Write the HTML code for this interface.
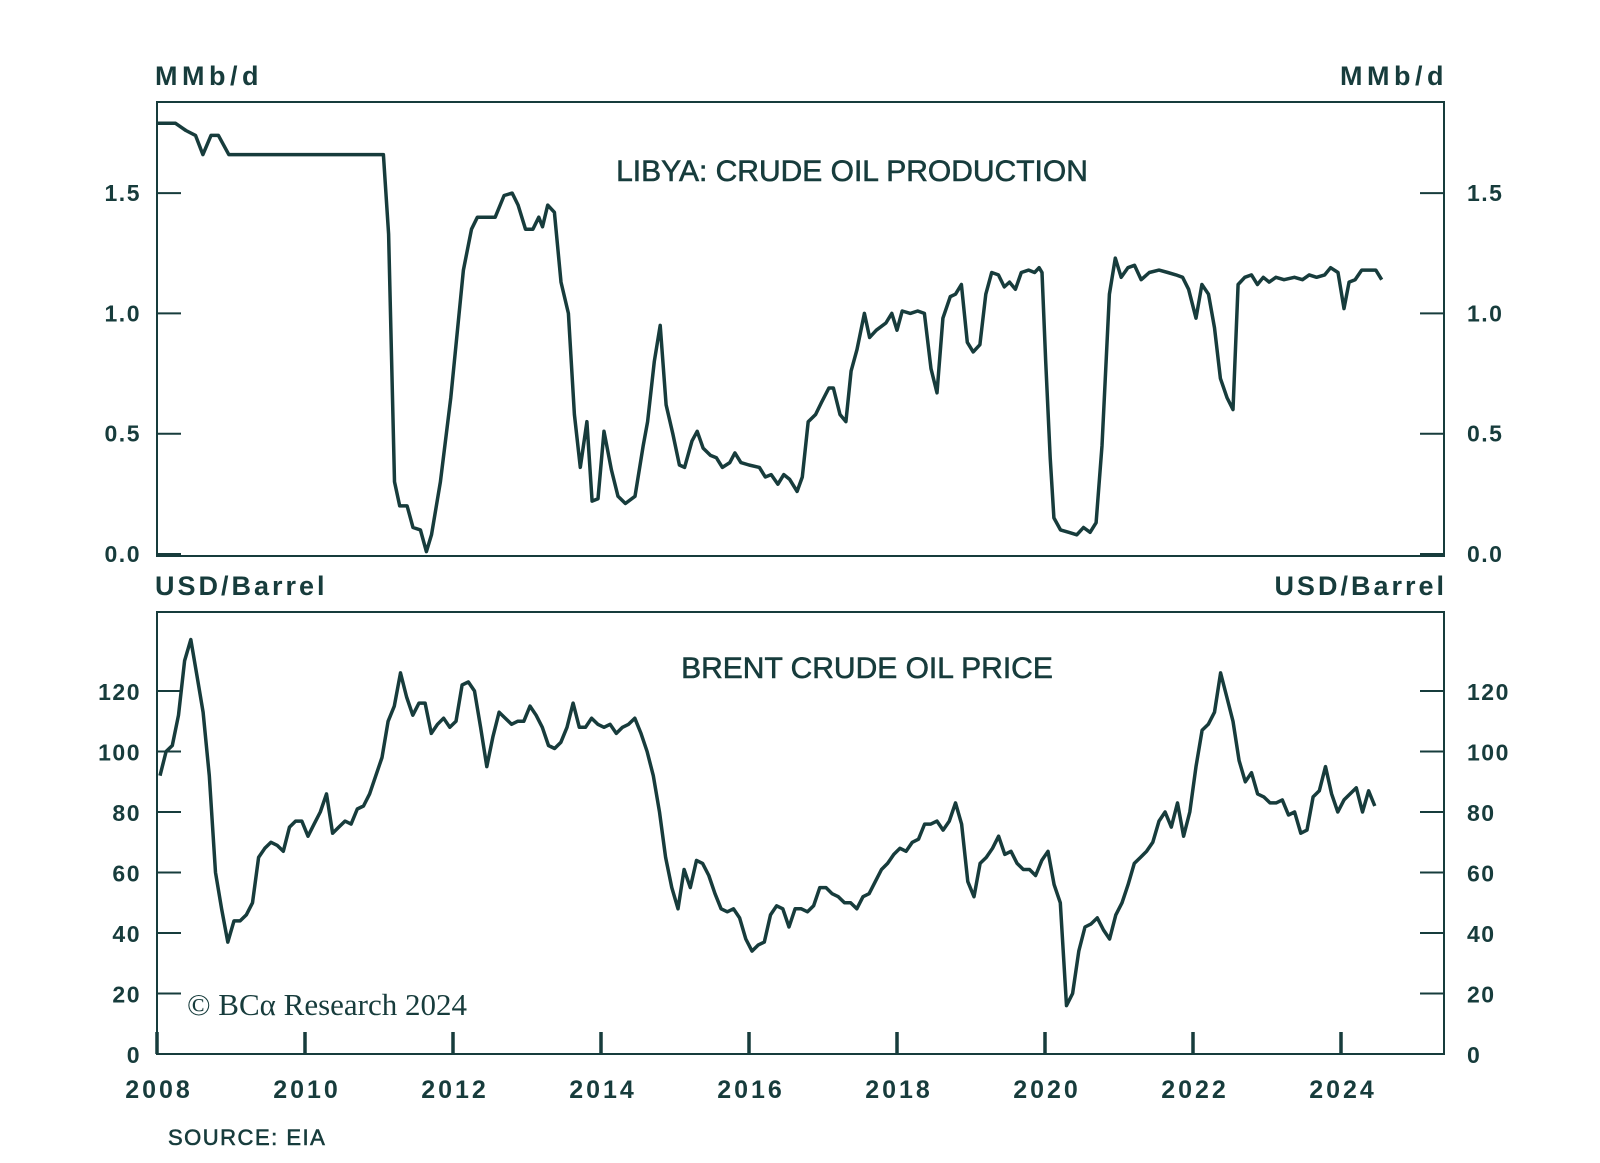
<!DOCTYPE html>
<html><head><meta charset="utf-8"><style>
html,body{margin:0;padding:0;background:#fff}
svg{display:block}
text{font-family:"Liberation Sans",sans-serif;fill:#173c3c}
</style></head><body>
<svg id="chart" width="1600" height="1163" viewBox="0 0 1600 1163" xmlns="http://www.w3.org/2000/svg">
<g id="static"></g>
</svg>
<script>
// Libya crude oil production (decimal year, MMb/d)
const libyaYears = [2008.00,2008.25,2008.39,2008.52,2008.62,2008.73,2008.83,2008.97,2011.06,2011.13,2011.21,2011.28,2011.38,2011.46,2011.56,2011.64,2011.71,2011.83,2011.97,2012.14,2012.25,2012.33,2012.57,2012.69,2012.80,2012.88,2012.98,2013.08,2013.16,2013.21,2013.28,2013.37,2013.46,2013.56,2013.64,2013.72,2013.81,2013.88,2013.96,2014.04,2014.14,2014.23,2014.33,2014.46,2014.57,2014.63,2014.72,2014.80,2014.88,2014.97,2015.06,2015.13,2015.23,2015.30,2015.38,2015.48,2015.56,2015.64,2015.74,2015.81,2015.89,2016.00,2016.14,2016.22,2016.30,2016.39,2016.47,2016.55,2016.65,2016.72,2016.80,2016.90,2016.98,2017.08,2017.14,2017.23,2017.31,2017.38,2017.46,2017.56,2017.63,2017.72,2017.85,2017.93,2018.00,2018.07,2018.18,2018.28,2018.37,2018.46,2018.54,2018.62,2018.72,2018.79,2018.87,2018.95,2019.03,2019.12,2019.20,2019.28,2019.37,2019.45,2019.52,2019.60,2019.68,2019.78,2019.86,2019.92,2019.96,2020.01,2020.07,2020.12,2020.21,2020.32,2020.43,2020.52,2020.61,2020.69,2020.77,2020.87,2020.95,2021.03,2021.12,2021.21,2021.30,2021.41,2021.54,2021.66,2021.77,2021.86,2021.94,2022.04,2022.12,2022.21,2022.29,2022.37,2022.46,2022.54,2022.61,2022.70,2022.79,2022.87,2022.95,2023.03,2023.12,2023.23,2023.37,2023.48,2023.57,2023.67,2023.78,2023.86,2023.96,2024.04,2024.11,2024.19,2024.28,2024.47,2024.55];
const libyaValues = [1.79,1.79,1.76,1.74,1.66,1.74,1.74,1.66,1.66,1.33,0.30,0.20,0.20,0.11,0.10,0.01,0.08,0.30,0.65,1.18,1.35,1.40,1.40,1.49,1.50,1.45,1.35,1.35,1.40,1.36,1.45,1.42,1.13,1.00,0.58,0.36,0.55,0.22,0.23,0.51,0.35,0.24,0.21,0.24,0.45,0.55,0.80,0.95,0.62,0.50,0.37,0.36,0.47,0.51,0.44,0.41,0.40,0.36,0.38,0.42,0.38,0.37,0.36,0.32,0.33,0.29,0.33,0.31,0.26,0.32,0.55,0.58,0.63,0.69,0.69,0.58,0.55,0.76,0.85,1.00,0.90,0.93,0.96,1.00,0.93,1.01,1.00,1.01,1.00,0.77,0.67,0.98,1.07,1.08,1.12,0.88,0.84,0.87,1.08,1.17,1.16,1.11,1.13,1.10,1.17,1.18,1.17,1.19,1.17,0.80,0.40,0.15,0.10,0.09,0.08,0.11,0.09,0.13,0.45,1.08,1.23,1.15,1.19,1.20,1.14,1.17,1.18,1.17,1.16,1.15,1.10,0.98,1.12,1.08,0.94,0.73,0.65,0.60,1.12,1.15,1.16,1.12,1.15,1.13,1.15,1.14,1.15,1.14,1.16,1.15,1.16,1.19,1.17,1.02,1.13,1.14,1.18,1.18,1.14];
// Brent monthly prices starting Jan 2008 (USD/barrel)
const brentStart = 2008.04;
const brentValues = [92,100,102,112,130,137,125,113,92,60,48,37,44,44,46,50,65,68,70,69,67,75,77,77,72,76,80,86,73,75,77,76,81,82,86,92,98,110,115,126,118,112,116,116,106,109,111,108,110,122,123,120,108,95,105,113,111,109,110,110,115,112,108,102,101,103,108,116,108,108,111,109,108,109,106,108,109,111,106,100,92,80,65,55,48,61,55,64,63,59,53,48,47,48,45,38,34,36,37,46,49,48,42,48,48,47,49,55,55,53,52,50,50,48,52,53,57,61,63,66,68,67,70,71,76,76,77,74,77,83,76,57,52,63,65,68,72,66,67,63,61,61,59,64,67,56,50,16,20,34,42,43,45,41,38,46,50,56,63,65,67,70,77,80,75,83,72,80,95,107,109,113,126,118,110,97,90,93,86,85,83,83,84,79,80,73,74,85,87,95,86,80,84,86,88,80,87,82];
const topTicks = [0.0,0.5,1.0,1.5];
const topTickLabels = ["0.0","0.5","1.0","1.5"];
const botTicks = [0,20,40,60,80,100,120];
const yearTicks = [2008,2010,2012,2014,2016,2018,2020,2022,2024];

const NS = "http://www.w3.org/2000/svg";
const COL = "#173c3c";
const X0 = 157, XR = 1444, PXY = 74;
function xScale(y){return X0 + (y-2008)*PXY;}
function yTop(v){return 554 - v*240.6;}
function yBot(v){return 1054 - v*3.025;}
const svg = document.getElementById('chart');
function mk(tag, attrs, parent){const e=document.createElementNS(NS,tag);for(const k in attrs)e.setAttribute(k,attrs[k]);(parent||svg).appendChild(e);return e;}
function txt(s, attrs){const e=mk('text',attrs);e.textContent=s;return e;}

let b1 = mk('rect',{x:X0,y:102,width:XR-X0,height:454,fill:'none',stroke:COL,'stroke-width':2});


let b2 = mk('rect',{x:X0,y:612,width:XR-X0,height:442,fill:'none',stroke:COL,'stroke-width':2});



const TL = {'font-size':23,'font-weight':'bold','letter-spacing':1.5};
topTicks.forEach((v,i)=>{
  const y=yTop(v);
  let t1=mk('line',{x1:X0,x2:X0+24,y1:y,y2:y,stroke:COL,'stroke-width':2});
  
  
  let t2=mk('line',{x1:XR-24,x2:XR,y1:y,y2:y,stroke:COL,'stroke-width':2});
  
  
  let l=txt(topTickLabels[i],Object.assign({x:141,y:y+8,'text-anchor':'end'},TL));
  
  
  let r=txt(topTickLabels[i],Object.assign({x:1467,y:y+8},TL));
  
  
});
botTicks.forEach(v=>{
  const y=yBot(v);
  let t1=mk('line',{x1:X0,x2:X0+24,y1:y,y2:y,stroke:COL,'stroke-width':2});
  
  
  let t2=mk('line',{x1:XR-24,x2:XR,y1:y,y2:y,stroke:COL,'stroke-width':2});
  
  
  let l=txt(String(v),Object.assign({x:141,y:y+9,'text-anchor':'end'},TL));
  
  
  let r=txt(String(v),Object.assign({x:1467,y:y+9},TL));
  
  
});
yearTicks.forEach(yr=>{
  const x=xScale(yr);
  let t=mk('line',{x1:x,x2:x,y1:1054,y2:1032,stroke:COL,'stroke-width':3.5});
  
  
  let l=txt(String(yr),{x:x+2,y:1098,'text-anchor':'middle','font-size':25,'font-weight':'bold','letter-spacing':3});
  
  
});

let dTop = libyaYears.map((yr,i)=>(i?'L':'M')+xScale(yr).toFixed(1)+','+yTop(libyaValues[i]).toFixed(1)).join('');
let p1 = mk('path',{d:dTop,fill:'none',stroke:COL,'stroke-width':3.5,'stroke-linejoin':'round'});


let dBot = brentValues.map((v,i)=>(i?'L':'M')+xScale(brentStart+i/12).toFixed(1)+','+yBot(v).toFixed(1)).join('');
let p2 = mk('path',{d:dBot,fill:'none',stroke:COL,'stroke-width':3.5,'stroke-linejoin':'round'});



const labels = [
 ['MMb/d',155,85,'start',27,'bold',4.5,'top-left-unit'],
 ['MMb/d',1448,85,'end',27,'bold',4.5,'top-right-unit'],
 ['USD/Barrel',155,595,'start',27,'bold',3,'bottom-left-unit'],
 ['USD/Barrel',1447,595,'end',27,'bold',3,'bottom-right-unit'],
 ['LIBYA: CRUDE OIL PRODUCTION',852,181,'middle',30,'normal',0,'top-panel-title'],
 ['BRENT CRUDE OIL PRICE',867,678,'middle',30,'normal',0,'bottom-panel-title'],
 ['SOURCE: EIA',168,1145,'start',22,'normal',1.5,'source-note']
];
labels.forEach(a=>{
  let t=txt(a[0],{x:a[1],y:a[2],'text-anchor':a[3],'font-size':a[4],'font-weight':a[5],'letter-spacing':a[6]});
  if(a[5]==='normal'){t.setAttribute('stroke',COL);t.setAttribute('stroke-width','0.6');}
  
  
});
let cp = txt('© BCα Research 2024',{x:187,y:1015,'font-size':31,style:'font-family:"Liberation Serif",serif'});


</script>
</body></html>
